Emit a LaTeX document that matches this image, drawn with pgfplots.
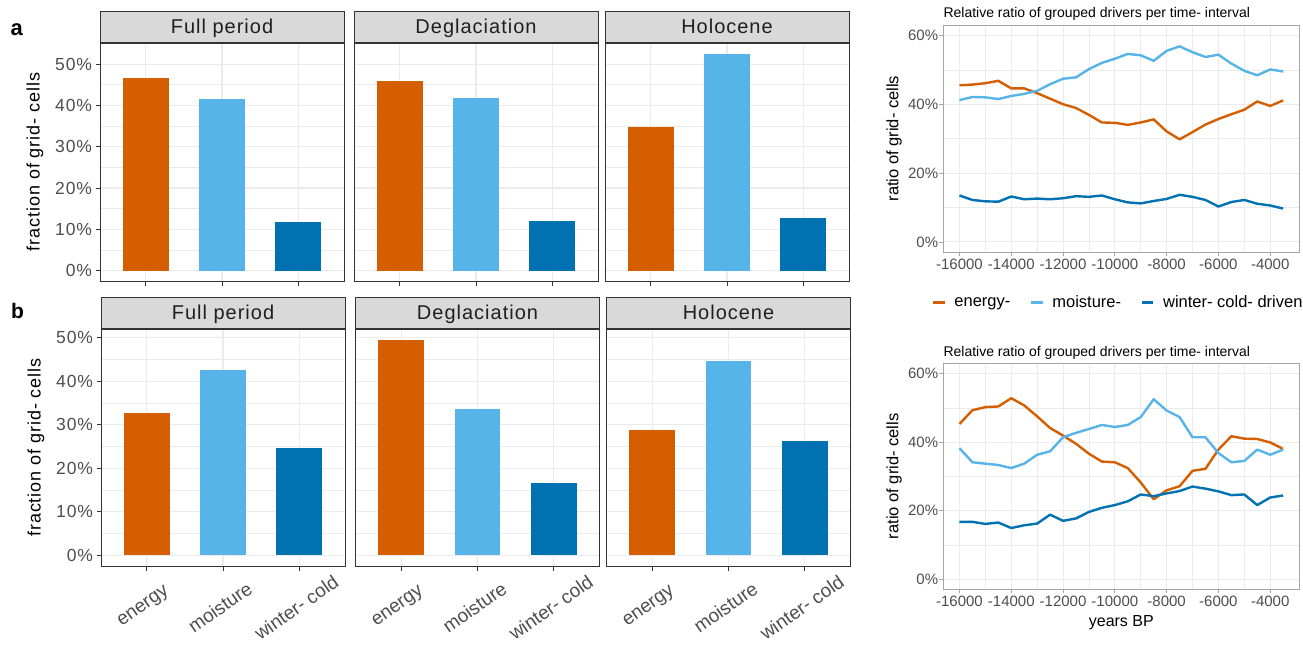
\documentclass[border=0pt]{standalone}
\usepackage{fontspec}
\setmainfont{Liberation Sans}
\newfontfamily\barfont[LetterSpace=5]{Liberation Sans}
\usepackage{pgfplots}
\usepackage{pgfplotstable}
\pgfplotsset{compat=1.18}
\definecolor{cE}{HTML}{D55E00}
\definecolor{cM}{HTML}{56B4E9}
\definecolor{cW}{HTML}{0072B2}
\definecolor{frame}{HTML}{333333}
\definecolor{lframe}{HTML}{A6A6A6}
\definecolor{tlab}{HTML}{4D4D4D}
\definecolor{gridc}{HTML}{EBEBEB}
\definecolor{stripc}{HTML}{D9D9D9}
\newcommand{\fs}[1]{\fontsize{#1}{#1}\selectfont}

\pgfplotstableread{
yr e m w
-16000 45.5 41.2 13.5
-15500 45.7 42.1 12.2
-15000 46.1 42.0 11.8
-14500 46.8 41.5 11.7
-14000 44.6 42.4 13.2
-13500 44.6 43.0 12.4
-13000 43.2 43.9 12.6
-12500 41.6 45.8 12.4
-12000 40.0 47.4 12.7
-11500 38.9 47.8 13.3
-11000 36.9 50.2 13.1
-10500 34.7 52.0 13.5
-10000 34.6 53.2 12.4
-9500 34.0 54.6 11.5
-9000 34.7 54.2 11.2
-8500 35.6 52.6 11.9
-8000 32.1 55.5 12.5
-7500 29.8 56.8 13.7
-7000 31.9 55.1 13.1
-6500 34.1 53.7 12.2
-6000 35.7 54.4 10.3
-5500 37.1 51.8 11.6
-5000 38.4 49.7 12.2
-4500 40.8 48.4 11.1
-4000 39.5 50.1 10.6
-3500 41.1 49.5 9.7
}\topdata

\pgfplotstableread{
yr e m w
-16000 45.3 38.2 16.7
-15500 49.3 34.1 16.7
-15000 50.2 33.7 16.1
-14500 50.4 33.3 16.5
-14000 52.8 32.4 14.9
-13500 50.7 33.7 15.7
-13000 47.5 36.3 16.2
-12500 44.1 37.3 18.8
-12000 41.9 41.4 17.0
-11500 39.5 42.7 17.7
-11000 36.6 43.8 19.6
-10500 34.3 45.0 20.8
-10000 34.1 44.4 21.6
-9500 32.4 45.0 22.7
-9000 28.2 47.3 24.7
-8500 23.3 52.5 24.2
-8000 25.9 49.2 25.0
-7500 27.1 47.3 25.7
-7000 31.6 41.4 27.0
-6500 32.2 41.4 26.4
-6000 37.8 36.8 25.6
-5500 41.7 34.1 24.5
-5000 41.0 34.5 24.7
-4500 40.9 37.8 21.6
-4000 39.9 36.3 23.8
-3500 38.0 37.8 24.4
}\botdata

\pgfplotsset{
  barE/.style={ybar, bar width=0.6, bar shift=0pt, fill=cE, draw=none},
  barM/.style={ybar, bar width=0.6, bar shift=0pt, fill=cM, draw=none},
  barW/.style={ybar, bar width=0.6, bar shift=0pt, fill=cW, draw=none},
  barbase/.style={
    scale only axis, width=244pt,
    xmin=0.4, xmax=3.6,
    xtick={1,2,3},
    ytick={0,10,20,30,40,50},
    minor ytick={5,15,25,35,45},
    grid=both,
    major grid style={draw=gridc, line width=1.1pt},
    minor grid style={draw=gridc, line width=0.55pt},
    axis line style={draw=frame, line width=0.8pt},
    major tick style={draw=frame, line width=0.8pt},
    minor tick length=0pt, major tick length=4.5pt,
    tick align=outside, xtick pos=bottom, ytick pos=left,
    ticklabel style={font=\barfont\fs{17.5}, text=tlab},
    every axis title/.style={at={(axis description cs:0.5,1)}, anchor=south,
      fill=stripc, draw=frame, line width=0.8pt, minimum width=244pt,
      minimum height=31.5pt, inner sep=0pt, text height=15.5pt, text depth=3pt,
      font=\barfont\fs{20}, text=black!88},
    every axis y label/.style={at={(axis description cs:-0.2664,0.5)}, rotate=90,
      anchor=center, font=\barfont\fs{18}, text=black},
  },
  firstpanel/.style={yticklabels={0\%,10\%,20\%,30\%,40\%,50\%},
    ylabel={fraction of grid- cells}},
  otherpanel/.style={yticklabels={}, ytick style={draw=none}},
  toprow/.style={xticklabels={}},
  botrow/.style={xticklabels={energy,moisture,winter- cold},
    xticklabel style={font=\fs{19}, anchor=center, yshift=-37pt, xshift=-3pt, rotate=35}},
  linebase/.style={
    scale only axis, width=356pt,
    xmin=-16625, xmax=-2875, ymin=-3, ymax=63,
    scaled x ticks=false, scaled y ticks=false,
    xtick={-16000,-14000,-12000,-10000,-8000,-6000,-4000},
    xticklabels={-16000,-14000,-12000,-10000,-8000,-6000,-4000},
    minor xtick={-15000,-13000,-11000,-9000,-7000,-5000},
    ytick={0,20,40,60}, yticklabels={0\%,20\%,40\%,60\%},
    minor ytick={10,30,50},
    grid=both,
    major grid style={draw=gridc, line width=1.0pt},
    minor grid style={draw=gridc, line width=0.5pt},
    axis line style={draw=lframe, line width=0.8pt},
    major tick style={draw=lframe, line width=0.8pt},
    minor tick length=0pt, major tick length=4pt,
    tick align=outside, xtick pos=bottom, ytick pos=left,
    ticklabel style={font=\fs{15}, text=tlab},
    yticklabel style={inner sep=1pt},
    xticklabel style={inner sep=2.5pt},
    every axis title/.style={at={(axis description cs:0,1.034)}, anchor=base west,
      inner sep=0pt, font=\fs{14}, text=black},
    every axis y label/.style={at={(axis description cs:-0.1385,0.5)}, rotate=90,
      anchor=center, font=\fs{16.5}, text=black},
    every axis x label/.style={at={(axis description cs:0.5,-0.1655)},
      anchor=base, font=\fs{16}, text=black},
    ylabel={ratio of grid- cells},
    title={Relative ratio of grouped drivers per time- interval},
  },
  lE/.style={cE, line width=2.4pt, line join=round},
  lM/.style={cM, line width=2.4pt, line join=round},
  lW/.style={cW, line width=2.4pt, line join=round},
}

\begin{document}
\begin{tikzpicture}
\useasboundingbox (0pt,0pt) rectangle (1303pt,-654pt);

\node[font=\bfseries\fs{22}, anchor=base west, inner sep=0pt] at (10.5pt,-35.5pt) {a};
\node[font=\bfseries\fs{21}, anchor=base west, inner sep=0pt] at (11pt,-318.3pt) {b};

% ---- row a ----
\begin{axis}[barbase, toprow, firstpanel, at={(100pt,-281pt)}, anchor=south west,
  height=238pt, ymin=-2.5, ymax=55.1, title={Full period}]
\addplot[barE] coordinates {(1,46.6)};
\addplot[barM] coordinates {(2,41.6)};
\addplot[barW] coordinates {(3,11.9)};
\end{axis}
\begin{axis}[barbase, toprow, otherpanel, at={(354pt,-281pt)}, anchor=south west,
  height=238pt, ymin=-2.5, ymax=55.1, title={Deglaciation}]
\addplot[barE] coordinates {(1,46.0)};
\addplot[barM] coordinates {(2,41.7)};
\addplot[barW] coordinates {(3,12.1)};
\end{axis}
\begin{axis}[barbase, toprow, otherpanel, at={(605pt,-281pt)}, anchor=south west,
  height=238pt, ymin=-2.5, ymax=55.1, title={Holocene}]
\addplot[barE] coordinates {(1,34.8)};
\addplot[barM] coordinates {(2,52.4)};
\addplot[barW] coordinates {(3,12.7)};
\end{axis}

% ---- row b ----
\begin{axis}[barbase, botrow, firstpanel, at={(101pt,-566pt)}, anchor=south west,
  height=237pt, ymin=-2.45, ymax=51.98, title={Full period}]
\addplot[barE] coordinates {(1,32.7)};
\addplot[barM] coordinates {(2,42.5)};
\addplot[barW] coordinates {(3,24.6)};
\end{axis}
\begin{axis}[barbase, botrow, otherpanel, at={(355.5pt,-566pt)}, anchor=south west,
  height=237pt, ymin=-2.45, ymax=51.98, title={Deglaciation}]
\addplot[barE] coordinates {(1,49.5)};
\addplot[barM] coordinates {(2,33.7)};
\addplot[barW] coordinates {(3,16.6)};
\end{axis}
\begin{axis}[barbase, botrow, otherpanel, at={(606.5pt,-566pt)}, anchor=south west,
  height=237pt, ymin=-2.45, ymax=51.98, title={Holocene}]
\addplot[barE] coordinates {(1,28.8)};
\addplot[barM] coordinates {(2,44.7)};
\addplot[barW] coordinates {(3,26.3)};
\end{axis}

% ---- line charts ----
\begin{axis}[linebase, at={(943.3pt,-252.3pt)}, anchor=south west, height=227.3pt,
  legend columns=3,
  legend style={at={(axis description cs:-0.0326,-0.2217)}, anchor=west,
    draw=none, fill=none, inner sep=0pt, font=\fs{16.5},
    /tikz/every odd column/.append style={column sep=8.5pt},
    /tikz/every even column/.append style={column sep=19.5pt},
    nodes={inner sep=0pt}},
  legend image code/.code={\draw[#1] (0pt,0pt) -- (11.6pt,0pt);}]
\addplot[lE] table[x=yr, y=e] {\topdata};
\addplot[lM] table[x=yr, y=m] {\topdata};
\addplot[lW] table[x=yr, y=w] {\topdata};
\legend{energy-, moisture-, winter- cold- driven}
\end{axis}

\begin{axis}[linebase, at={(943.3pt,-589.3pt)}, anchor=south west, height=226pt,
  xlabel={years BP},
  every axis title/.append style={at={(axis description cs:0,1.0323)}}]
\addplot[lE] table[x=yr, y=e] {\botdata};
\addplot[lM] table[x=yr, y=m] {\botdata};
\addplot[lW] table[x=yr, y=w] {\botdata};
\end{axis}
\end{tikzpicture}
\end{document}
